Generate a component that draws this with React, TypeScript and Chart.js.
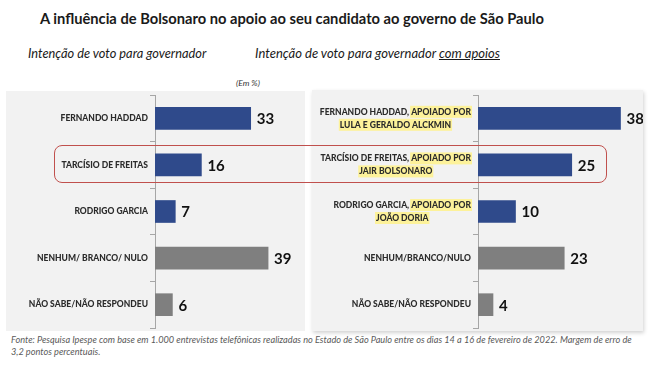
import React, { useEffect, useRef } from "react";
import { Chart, registerables } from "chart.js";

Chart.register(...registerables);

const titleText = "A influência de Bolsonaro no apoio ao seu candidato ao governo de São Paulo";
const leftTitle = "Intenção de voto para governador";
const rightTitlePlain = "Intenção de voto para governador ";
const rightTitleUnderlined = "com apoios";
const unitText = "(Em %)";
const footerLines = [
  "Fonte: Pesquisa Ipespe com base em 1.000 entrevistas telefônicas realizadas no Estado de São Paulo entre os dias 14 a 16 de fevereiro de 2022. Margem de erro de",
  "3,2 pontos percentuais.",
];

const leftCategories: string[][] = [
  ["FERNANDO HADDAD"],
  ["TARCÍSIO DE FREITAS"],
  ["RODRIGO GARCIA"],
  ["NENHUM/ BRANCO/ NULO"],
  ["NÃO SABE/NÃO RESPONDEU"],
];
const leftValues = [33, 16, 7, 39, 6];

const rightCategories: string[][] = [
  ["FERNANDO HADDAD, APOIADO POR", "LULA E GERALDO ALCKMIN"],
  ["TARCÍSIO DE FREITAS, APOIADO POR", "JAIR BOLSONARO"],
  ["RODRIGO GARCIA, APOIADO POR", "JOÃO DORIA"],
  ["NENHUM/BRANCO/NULO"],
  ["NÃO SABE/NÃO RESPONDEU"],
];
const rightValues = [38, 25, 10, 23, 4];
const highlightKey = "APOIADO POR";

const barColors = ["#2f4a8b", "#2f4a8b", "#2f4a8b", "#7f7f7f", "#7f7f7f"];

const FONT = "Lato, 'Open Sans', sans-serif";

const labelPlugin = {
  id: "customLabels",
  afterDraw(chart: any, _args: any, opts: any) {
    const { ctx, chartArea } = chart;
    const yS = chart.scales.y;
    const xS = chart.scales.x;
    const labelFont = `900 8.5px ${FONT}`;
    ctx.save();
    ctx.textBaseline = "middle";
    (opts.lines as string[][]).forEach((lines, i) => {
      const cy = yS.getPixelForValue(i);
      ctx.font = labelFont;
      const widths = lines.map((l) => ctx.measureText(l).width);
      const bw = Math.max(...widths);
      const right = chartArea.left - opts.gap;
      const cx = right - bw / 2;
      const lh = 13;
      const y0 = cy - ((lines.length - 1) * lh) / 2;
      let hl = false;
      lines.forEach((line, j) => {
        const ly = y0 + j * lh;
        const start = cx - widths[j] / 2;
        let plain = line;
        let high = "";
        if (hl) {
          plain = "";
          high = line;
        } else if (opts.highlight) {
          const k = line.indexOf(opts.highlight);
          if (k >= 0) {
            plain = line.slice(0, k);
            high = line.slice(k);
            hl = true;
          }
        }
        const pw = plain ? ctx.measureText(plain).width : 0;
        if (high) {
          const hw = ctx.measureText(high).width;
          ctx.fillStyle = "#fdf29a";
          ctx.fillRect(start + pw - 1, ly - 6, hw + 2, 12);
        }
        ctx.textAlign = "left";
        ctx.fillStyle = "#2b2b2b";
        if (plain) ctx.fillText(plain, start, ly);
        if (high) ctx.fillText(high, start + pw, ly);
      });
      const v = chart.data.datasets[0].data[i];
      ctx.font = `bold 15px ${FONT}`;
      ctx.fillStyle = "#111111";
      ctx.textAlign = "left";
      ctx.fillText(String(v), xS.getPixelForValue(v) + 6, cy + 1);
    });
    ctx.restore();
  },
};

function BarPanel(props: {
  categories: string[][];
  values: number[];
  max: number;
  axisWidth: number;
  padTop: number;
  padBottom: number;
  padRight: number;
  width: number;
  height: number;
  highlight: string;
}) {
  const ref = useRef<HTMLCanvasElement>(null);
  useEffect(() => {
    if (!ref.current) return;
    const chart = new Chart(ref.current, {
      type: "bar",
      data: {
        labels: props.categories.map((c) => c.join(" ")),
        datasets: [
          {
            data: props.values,
            backgroundColor: barColors,
            borderWidth: 0,
            barThickness: 22,
          },
        ],
      },
      options: {
        indexAxis: "y",
        responsive: false,
        maintainAspectRatio: false,
        animation: false,
        layout: {
          padding: { top: props.padTop, bottom: props.padBottom, right: props.padRight, left: 0 },
        },
        scales: {
          x: { display: false, min: 0, max: props.max },
          y: {
            afterFit: (s: any) => {
              s.width = props.axisWidth;
            },
            ticks: { display: false },
            grid: {
              display: true,
              drawOnChartArea: false,
              drawTicks: true,
              tickLength: 5,
              offset: true,
              color: "#a6a6a6",
            },
            border: { display: true, color: "#a6a6a6" },
          },
        },
        plugins: {
          legend: { display: false },
          tooltip: { enabled: false },
          customLabels: { lines: props.categories, highlight: props.highlight, gap: 7 },
        } as any,
      },
      plugins: [labelPlugin as any],
    });
    return () => chart.destroy();
  }, []);
  return <canvas ref={ref} width={props.width} height={props.height} style={{ display: "block" }} />;
}

export default function App() {
  return (
    <div
      style={{
        position: "absolute",
        left: 0,
        top: 0,
        width: 650,
        height: 365,
        background: "#ffffff",
        fontFamily: FONT,
        overflow: "hidden",
      }}
    >
      <div
        style={{
          position: "absolute",
          left: 40,
          top: 8,
          fontWeight: 700,
          fontSize: 14.7,
          color: "#1a1a1a",
          whiteSpace: "nowrap",
          lineHeight: "20px",
        }}
      >
        {titleText}
      </div>
      <div
        style={{
          position: "absolute",
          left: 28,
          top: 44,
          fontStyle: "italic",
          fontSize: 12.8,
          color: "#1a1a1a",
          whiteSpace: "nowrap",
          lineHeight: "18px",
        }}
      >
        {leftTitle}
      </div>
      <div
        style={{
          position: "absolute",
          left: 255,
          top: 44,
          fontStyle: "italic",
          fontSize: 13,
          color: "#1a1a1a",
          whiteSpace: "nowrap",
          lineHeight: "18px",
        }}
      >
        {rightTitlePlain}
        <span style={{ textDecoration: "underline" }}>{rightTitleUnderlined}</span>
      </div>
      <div
        style={{
          position: "absolute",
          left: 236,
          top: 77,
          fontStyle: "italic",
          fontSize: 8.5,
          color: "#333",
          whiteSpace: "nowrap",
          lineHeight: "12px",
        }}
      >
        {unitText}
      </div>
      <div
        style={{ position: "absolute", left: 6, top: 91, width: 299, height: 240, background: "#f2f2f2" }}
      >
        <BarPanel
          categories={leftCategories}
          values={leftValues}
          max={50}
          axisWidth={149}
          padTop={4}
          padBottom={3}
          padRight={5}
          width={299}
          height={240}
          highlight=""
        />
      </div>
      <div
        style={{
          position: "absolute",
          left: 312,
          top: 90,
          width: 331,
          height: 241,
          background: "#f2f2f2",
          boxShadow: "1px 2px 4px rgba(0,0,0,0.18)",
        }}
      >
        <BarPanel
          categories={rightCategories}
          values={rightValues}
          max={40}
          axisWidth={166}
          padTop={5}
          padBottom={3}
          padRight={15}
          width={331}
          height={241}
          highlight={highlightKey}
        />
      </div>
      <div
        style={{
          position: "absolute",
          left: 54,
          top: 145,
          width: 553,
          height: 38,
          border: "1px solid #c0504d",
          borderRadius: 8,
          boxSizing: "border-box",
          pointerEvents: "none",
        }}
      />
      <div
        style={{
          position: "absolute",
          left: 11,
          top: 334,
          width: 636,
          fontStyle: "italic",
          fontSize: 9.2,
          color: "#5a5a5a",
          lineHeight: "12px",
          whiteSpace: "nowrap",
        }}
      >
        {footerLines[0]}
        <br />
        {footerLines[1]}
      </div>
    </div>
  );
}
